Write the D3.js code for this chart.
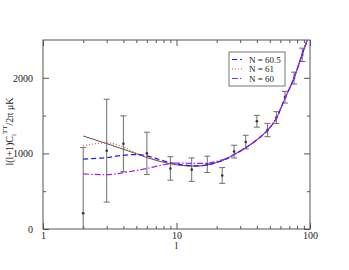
<!DOCTYPE html>
<html>
<head>
<meta charset="utf-8">
<script src="https://cdn.jsdelivr.net/npm/d3@7/dist/d3.min.js"></script>
<style>
  body { margin: 0; background: #fff; }
  text { font-family: "Liberation Serif", "DejaVu Serif", serif; fill: #222; }
</style>
</head>
<body>
<svg id="chart"></svg>
<script>
/* Observed multipoles with error bars */
const obsL   = [2, 3, 4, 6, 9, 13, 17, 22, 27, 33, 40, 48, 56, 65, 76, 87.5];
const obsVal = [208, 1036, 1128, 1000, 801, 785, 855, 708, 1024, 1150, 1425, 1309, 1474, 1743, 1996, 2304];
const obsErr = [869, 680, 369, 280, 155, 155, 108, 104, 84, 90, 78, 88, 78, 77, 79, 88];

/* Model curves, sampled on the same multipoles */
const modelL   = [2, 3, 4, 5, 6, 7, 8, 10, 12, 14, 17, 20, 22, 25, 27, 30, 33, 40, 48, 56, 65, 76, 87, 100];
const theory   = [1230, 1130, 1055, 995, 945, 910, 882, 850, 835, 832, 848, 880, 905, 950, 985, 1030, 1075, 1180, 1305, 1465, 1730, 2000, 2300, 2600];
const modelN61 = [1100, 1140, 1085, 1005, 950, 912, 883, 850, 835, 832, 848, 880, 905, 950, 985, 1030, 1075, 1180, 1305, 1465, 1730, 2000, 2300, 2600];
const modelN605 = [925, 945, 975, 985, 968, 935, 902, 862, 842, 835, 848, 880, 905, 950, 985, 1030, 1075, 1180, 1305, 1465, 1730, 2000, 2300, 2600];
const modelN60 = [728, 718, 745, 775, 800, 828, 850, 872, 870, 868, 870, 895, 915, 952, 985, 1030, 1075, 1180, 1305, 1465, 1730, 2000, 2300, 2600];

/* Axis ticks */
const xMajor = [1, 10, 100];
const xMinor = [2, 3, 4, 5, 6, 7, 8, 9, 20, 30, 40, 50, 60, 70, 80, 90];
const yMajor = [0, 1000, 2000];
const yMinor = [500, 1500];

/* Legend entries (drawn with the matching series) */
const legendLabels = ["N = 60.5", "N = 61", "N = 60"];

const W = 349, H = 270;
const margin = { top: 40, right: 39, bottom: 41, left: 43 };
const width = W - margin.left - margin.right;
const height = H - margin.top - margin.bottom;

const svg = d3.select("#chart").attr("width", W).attr("height", H);
const g = svg.append("g").attr("transform", `translate(${margin.left},${margin.top})`);

const x = d3.scaleLog().domain([1, 100]).range([0, width]);
const y = d3.scaleLinear().domain([0, 2500]).range([height, 0]);

g.append("clipPath").attr("id", "clip")
  .append("rect").attr("width", width).attr("height", height);

const plot = g.append("g").attr("clip-path", "url(#clip)");

/* Error bars */
const obs = obsL.map((l, i) => ({ l, v: obsVal[i], e: obsErr[i] }));
const barColor = "#6e6e6e";
const eb = plot.append("g").selectAll("g").data(obs).join("g");
eb.append("line")
  .attr("x1", d => x(d.l)).attr("x2", d => x(d.l))
  .attr("y1", d => y(d.v - d.e)).attr("y2", d => y(d.v + d.e))
  .attr("stroke", barColor).attr("stroke-width", 1);
[-1, 1].forEach(s => {
  eb.append("line")
    .attr("x1", d => x(d.l) - 3).attr("x2", d => x(d.l) + 3)
    .attr("y1", d => y(d.v + s * d.e)).attr("y2", d => y(d.v + s * d.e))
    .attr("stroke", barColor).attr("stroke-width", 1);
});
eb.append("circle")
  .attr("cx", d => x(d.l)).attr("cy", d => y(d.v)).attr("r", 1.3)
  .attr("fill", "#333");

/* Curves */
const line = d3.line().x(d => x(d[0])).y(d => y(d[1])).curve(d3.curveMonotoneX);
const series = [
  { vals: theory,    color: "#555555", dash: null,        w: 1 },
  { vals: modelN61,  color: "#ff4040", dash: "1,2",       w: 1.2 },
  { vals: modelN605, color: "#1a1aff", dash: "5,3",       w: 1.2 },
  { vals: modelN60,  color: "#a020f0", dash: "6,2,1.5,2", w: 1.2 }
];
series.forEach(s => {
  plot.append("path")
    .datum(modelL.map((l, i) => [l, s.vals[i]]))
    .attr("d", line)
    .attr("fill", "none")
    .attr("stroke", s.color)
    .attr("stroke-width", s.w)
    .attr("stroke-dasharray", s.dash);
});

/* Frame */
const axisColor = "#555";
g.append("rect").attr("width", width).attr("height", height)
  .attr("fill", "none").attr("stroke", axisColor).attr("stroke-width", 1);

function tickAxis(axisFn, scale, ticks, size, labels) {
  return axisFn(scale).tickValues(ticks).tickSize(size).tickPadding(4)
    .tickFormat(labels ? d3.format("d") : "");
}
function drawAxis(axis, transform) {
  const ag = g.append("g").attr("transform", transform).call(axis);
  ag.select(".domain").remove();
  ag.selectAll("line").attr("stroke", axisColor);
  ag.selectAll("text").attr("font-size", 10).attr("fill", "#222")
    .style("font-family", '"Liberation Serif", serif');
  return ag;
}

/* bottom / top */
drawAxis(tickAxis(d3.axisBottom, x, xMajor, -6, true), `translate(0,${height})`)
  .selectAll("text").attr("dy", "0.71em").attr("y", 3);
drawAxis(tickAxis(d3.axisBottom, x, xMinor, -3, false), `translate(0,${height})`);
drawAxis(tickAxis(d3.axisTop, x, xMajor, -6, false), "translate(0,0)");
drawAxis(tickAxis(d3.axisTop, x, xMinor, -3, false), "translate(0,0)");
/* left / right */
drawAxis(tickAxis(d3.axisLeft, y, yMajor, -6, true).tickPadding(10), "translate(0,0)");
drawAxis(tickAxis(d3.axisLeft, y, yMinor, -3, false), "translate(0,0)");
drawAxis(tickAxis(d3.axisRight, y, yMajor, -6, false), `translate(${width},0)`);
drawAxis(tickAxis(d3.axisRight, y, yMinor, -3, false), `translate(${width},0)`);

/* Axis titles */
svg.append("text")
  .attr("x", margin.left + width / 2).attr("y", 249)
  .attr("text-anchor", "middle").attr("font-size", 10).text("l");

const yl = svg.append("text")
  .attr("transform", `translate(13,${margin.top + height / 2 - 3}) rotate(-90)`)
  .attr("text-anchor", "middle").attr("font-size", 10);
yl.append("tspan").text("l(l+1)C");
yl.append("tspan").attr("font-size", 7).attr("dy", 3).text("l");
yl.append("tspan").attr("font-size", 7).attr("dy", -9).attr("dx", 0).text("TT");
yl.append("tspan").attr("dy", 6).text("/2π μK");

/* Legend */
const lg = svg.append("g").attr("transform", "translate(229,52)");
lg.append("rect").attr("width", 56).attr("height", 34)
  .attr("fill", "#fff").attr("stroke", "#777").attr("stroke-width", 1);
const legendSeries = [series[2], series[1], series[3]];
legendLabels.forEach((lab, i) => {
  const ry = 7.5 + i * 9.5;
  const s = legendSeries[i];
  lg.append("line").attr("x1", 3).attr("x2", 13).attr("y1", ry).attr("y2", ry)
    .attr("stroke", s.color).attr("stroke-width", 1.2).attr("stroke-dasharray", s.dash);
  lg.append("text").attr("x", 20).attr("y", ry + 3).attr("font-size", 9).text(lab);
});
</script>
</body>
</html>
